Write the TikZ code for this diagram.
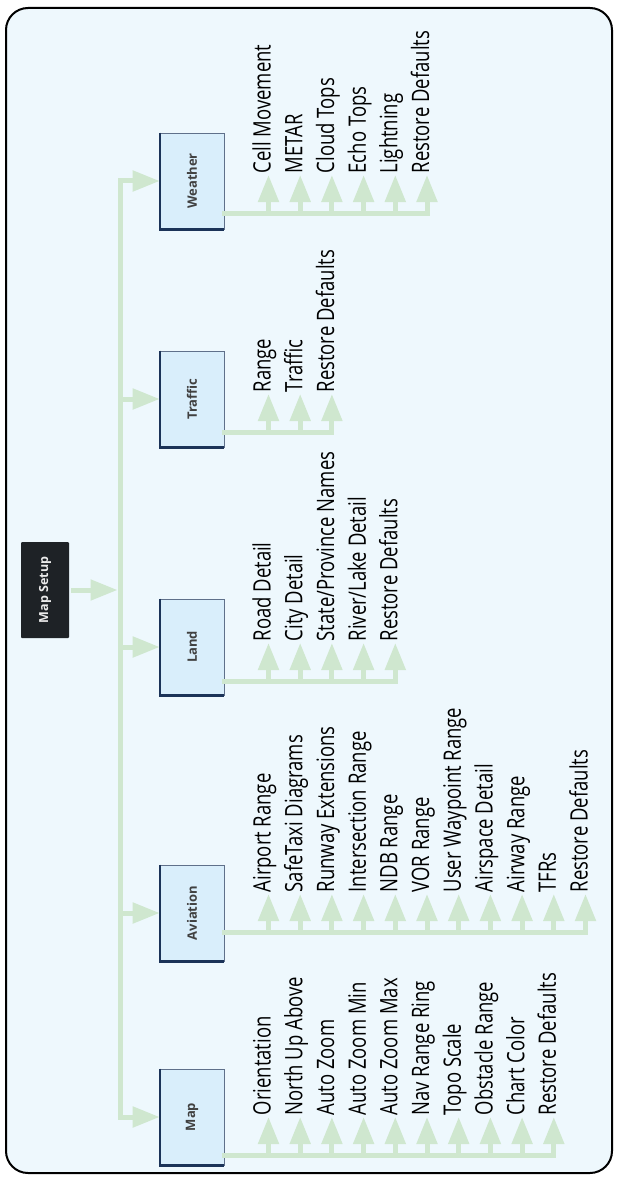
\documentclass[tikz,border=0pt]{standalone}
\usepackage{fontspec}
\newfontfamily\itemfont{Open Sans}[FakeStretch=0.77]
\newfontfamily\btnfont{Open Sans}
\usepackage{graphicx}
\usepackage{tikz}
\usetikzlibrary{arrows.meta}
\definecolor{panelbg}{HTML}{EEF8FD}
\definecolor{btnfill}{HTML}{D9EEFB}
\definecolor{btnedge}{HTML}{1B3358}
\definecolor{flowgreen}{HTML}{CFE7CF}
\definecolor{setupdark}{HTML}{1E2226}
\tikzset{
  menu/.style  = {rectangle, fill=btnfill, draw=btnedge!70, line width=0.6pt, inner sep=0pt,
                  minimum width=64pt, minimum height=96pt,
                  font=\btnfont\bfseries\fontsize{13}{15}\selectfont, text=black!75},
  setup/.style = {rectangle, rounded corners=1pt, fill=setupdark, inner sep=0pt,
                  minimum width=48pt, minimum height=96pt,
                  font=\btnfont\bfseries\fontsize{12.5}{14}\selectfont, text=white!92!black},
  item/.style  = {rotate=90, anchor=mid west, inner sep=1.5pt,
                  font=\itemfont\fontsize{24}{28}\selectfont, text=black},
  stem/.style  = {draw=flowgreen, line width=5pt, line cap=rect},
  flow/.style  = {draw=flowgreen, line width=5pt, -{Triangle[length=27pt, width=20pt]}},
}

\begin{document}
\begin{tikzpicture}[x=1pt, y=-1pt]
  \useasboundingbox (0,0) rectangle (617,1177);

  % the panel
  \draw[line width=2pt, rounded corners=22pt, fill=panelbg] (6,8) rectangle (612,1173);

  %% ---- root and trunk --------------------------------------------------------------
  \node[setup] (setup) at (45,590) {\rotatebox{90}{Map Setup}};
  \coordinate (hub) at (120,590);
  \draw[flow, shorten <=2pt, shorten >=2.5pt] (setup.east) -- (hub);

  %% ---- one menu per page, its options fanned out to the right ----------------------
  \foreach \g/\yc/\br/\n/\items in {
      Map/1117/1155/10/{Orientation, North Up Above, Auto Zoom, Auto Zoom Min, Auto Zoom Max,
                        Nav Range Ring, Topo Scale, Obstacle Range, Chart Color, Restore Defaults},
      Aviation/913/932/11/{Airport Range, SafeTaxi Diagrams, Runway Extensions, Intersection Range,
                           NDB Range, VOR Range, User Waypoint Range, Airspace Detail, Airway Range,
                           TFRs, Restore Defaults},
      Land/647/681/5/{Road Detail, City Detail, {State/Province Names}, {River/Lake Detail},
                      Restore Defaults},
      Traffic/399/432/3/{Range, Traffic, Restore Defaults},
      Weather/181/213/6/{Cell Movement, METAR, Cloud Tops, Echo Tops, Lightning, Restore Defaults}} {
    \node[menu] (\g) at (192,\yc) {\rotatebox{90}{\g}};
    \draw[btnedge, line width=2.4pt] (\g.north west) -- (\g.south west) -- (\g.south east);
    \draw[flow] (hub |- \g.west) -- (\g.west);
    \coordinate (\g br) at (\g.east |- 0,\br);
    \foreach \t [count=\i] in \items {
      \node[item] (\g-\i) at ({268.5+31.7*(\i-1)},\br-38) {\t};
      \draw[flow] (\g-\i.mid west |- \g br) -- (\g-\i.mid west);
    }
    \draw[stem] (\g br) -- (\g-\n.mid west |- \g br);
  }
  \draw[stem] (hub |- Weather.west) -- (hub |- Map.west);
\end{tikzpicture}
\end{document}
